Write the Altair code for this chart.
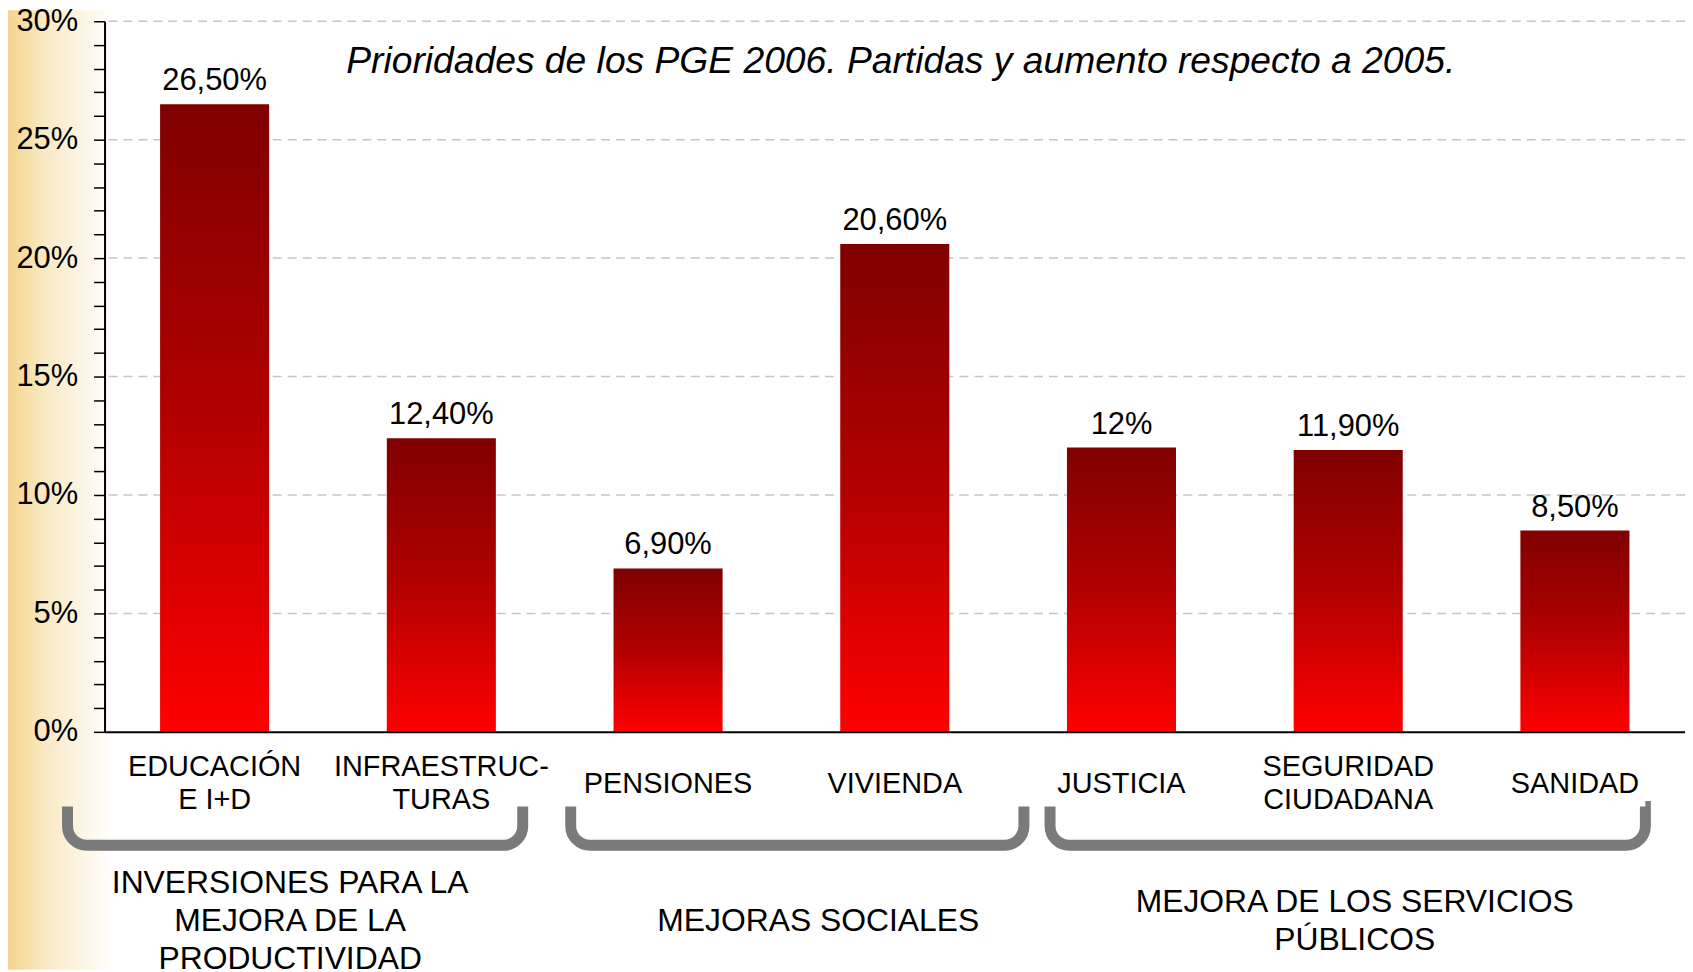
import altair as alt
import pandas as pd

# ---------------- data ----------------
categories = ["EDUCACIÓN|E I+D", "INFRAESTRUC-|TURAS", "PENSIONES", "VIVIENDA",
              "JUSTICIA", "SEGURIDAD|CIUDADANA", "SANIDAD"]
values = [0.265, 0.124, 0.069, 0.206, 0.120, 0.119, 0.085]
value_labels = ["26,50%", "12,40%", "6,90%", "20,60%", "12%", "11,90%", "8,50%"]

group_names = ["INVERSIONES PARA LA|MEJORA DE LA|PRODUCTIVIDAD",
               "MEJORAS SOCIALES",
               "MEJORA DE LOS SERVICIOS|PÚBLICOS"]
group_first = ["EDUCACIÓN|E I+D", "PENSIONES", "JUSTICIA"]
group_last = ["INFRAESTRUC-|TURAS", "VIVIENDA", "SANIDAD"]

y_ticks = [i / 100 for i in range(0, 31)]
grid_values = [0.05, 0.10, 0.15, 0.20, 0.25, 0.30]
title_text = "Prioridades de los PGE 2006. Partidas y aumento respecto a 2005."

# ---------------- layout / style ----------------
FONT = "Liberation Sans"
W, H = 1588, 714
PAD_L, PAD_T = 97, 11
TOTAL_H = 964
PI, PO = 0.519, 0.245
n = len(categories)
step = W / (n - PI + 2 * PO)
bw = step * (1 - PI)
# per-brace horizontal extension (left, right) in px beyond the bars
BRACE_EXT = [(-93, 27), (-43, 75), (-17, 16)]
# per-group label nudge relative to the brace centre
LABEL_NUDGE = [-5, 21, 7]
LABEL_CENTER_Y = 904
LABEL_LH = 38
CAT_CENTER_Y = H + 52
CAT_LH = 34
BRACE_COLOR = "#7A7A7A"

x_scale = alt.Scale(domain=categories, paddingInner=PI, paddingOuter=PO)
x_axis = alt.Axis(
    labels=False, ticks=False, tickSize=0,
    domainColor="black", domainWidth=2,
    title=None, zindex=1, grid=False,
)
y_axis = alt.Axis(
    values=y_ticks,
    labelExpr="round(datum.value*100) % 5 == 0 ? round(datum.value*100) + '%' : ''",
    tickSize=11, tickColor="black", tickWidth=1.5, domainColor="black",
    domainWidth=2, grid=False, labelFont=FONT, labelFontSize=31,
    labelColor="black", labelPadding=16, title=None, zindex=1,
    labelOverlap=False,
)
x_enc = alt.X("cat:N", scale=x_scale, sort=None, axis=x_axis)
y_scale = alt.Scale(domain=[0, 0.3], nice=False, zero=True)
y_enc = alt.Y("val:Q", scale=y_scale, axis=y_axis)

df = pd.DataFrame({"cat": categories, "val": values, "lab": value_labels})

# left golden fade
bg = alt.Chart(pd.DataFrame({"k": [0]})).mark_rect(
    fill=alt.Gradient(
        gradient="linear",
        stops=[alt.GradientStop(color="#F3D58C", offset=0),
               alt.GradientStop(color="#F9E9C4", offset=0.35),
               alt.GradientStop(color="#FFFFFF", offset=1)],
        x1=0, x2=1, y1=0, y2=0),
).encode(x=alt.value(-PAD_L), x2=alt.value(8),
         y=alt.value(-PAD_T), y2=alt.value(TOTAL_H - PAD_T))

grid = alt.Chart(pd.DataFrame({"val": grid_values})).mark_rule(
    strokeDash=[9, 6], color="#C6C6C6", strokeWidth=1.5
).encode(y=y_enc)

bars = alt.Chart(df).mark_bar(
    fill=alt.Gradient(
        gradient="linear",
        stops=[alt.GradientStop(color="#800000", offset=0),
               alt.GradientStop(color="#B20000", offset=0.5),
               alt.GradientStop(color="#FF0000", offset=1)],
        x1=0, x2=0, y1=0, y2=1),
).encode(x=x_enc, y=y_enc)

bar_labels = alt.Chart(df).mark_text(
    font=FONT, fontSize=31, baseline="alphabetic", dy=-14, color="black"
).encode(x=x_enc, y=y_enc, text="lab:N")

title = alt.Chart(pd.DataFrame({"t": [title_text]})).mark_text(
    font=FONT, fontSize=37.4, fontStyle="italic", align="center",
    baseline="middle", color="black"
).encode(text="t:N", x=alt.value(800), y=alt.value(41))

layers = [bg, grid, bars, bar_labels, title]

# category labels (one layer per line count so blocks are vertically centred)
for nl in (1, 2):
    cat_lab = alt.Chart(df).transform_calculate(
        lines="split(datum.cat, '|')"
    ).transform_filter(
        f"length(datum.lines) == {nl}"
    ).mark_text(
        font=FONT, fontSize=29, lineHeight=CAT_LH, align="center",
        baseline="middle", color="black",
    ).encode(
        x=x_enc, y=alt.value(CAT_CENTER_Y - (nl - 1) / 2 * CAT_LH),
        text="lines:N",
    )
    layers.append(cat_lab)

for i, (name, first, last) in enumerate(zip(group_names, group_first, group_last)):
    off_l, off_r = BRACE_EXT[i]
    w = (categories.index(last) - categories.index(first)) * step + bw + off_r - off_l
    nlines = len(name.split("|"))
    d = pd.DataFrame({"first": [first], "last": [last], "name": [name]})
    brace = alt.Chart(d).mark_rect(
        fillOpacity=0, stroke=BRACE_COLOR, strokeWidth=11,
        cornerRadiusBottomLeft=38, cornerRadiusBottomRight=38,
        strokeDash=[0, w, 5000, 0], xOffset=off_l, x2Offset=off_r,
    ).encode(
        x=alt.X("first:N", scale=x_scale, bandPosition=0, axis=x_axis),
        x2=alt.X2("last:N", bandPosition=1),
        y=alt.value(789), y2=alt.value(828),
    )
    glabel = alt.Chart(d).transform_calculate(
        lines="split(datum.name, '|')"
    ).mark_text(
        font=FONT, fontSize=32, lineHeight=LABEL_LH, align="center",
        baseline="middle", dx=off_l + w / 2 + LABEL_NUDGE[i], color="black",
    ).encode(
        x=alt.X("first:N", scale=x_scale, bandPosition=0, axis=x_axis),
        y=alt.value(LABEL_CENTER_Y - (nlines - 1) / 2 * LABEL_LH), text="lines:N",
    )
    layers += [brace, glabel]

chart = alt.layer(*layers).properties(
    width=W, height=H,
    padding={"left": PAD_L, "top": PAD_T, "right": 0, "bottom": TOTAL_H - PAD_T - H},
    autosize=alt.AutoSizeParams(type="none"),
    background="white",
).configure_view(strokeWidth=0)

chart.save("out.html", embed_options={"renderer": "svg", "actions": False})
